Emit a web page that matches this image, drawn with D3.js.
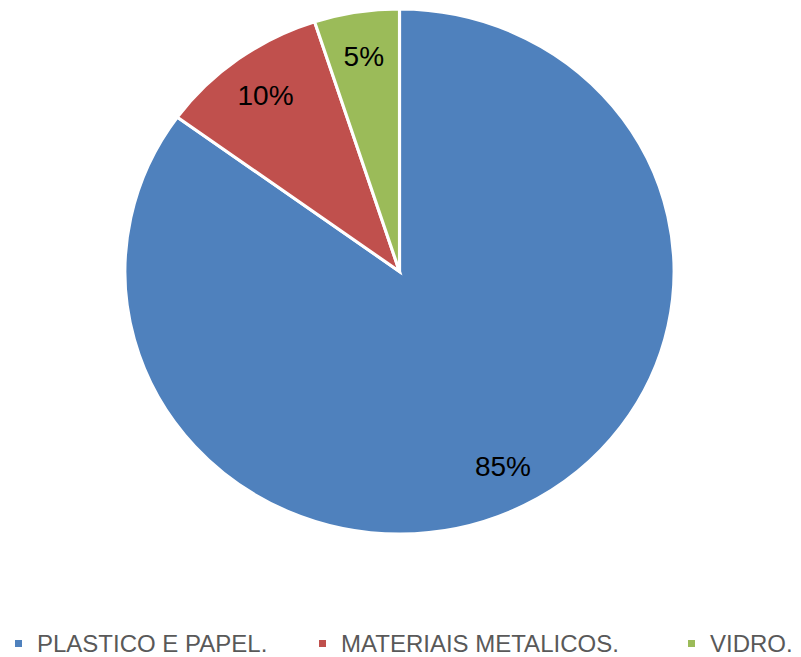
<!DOCTYPE html>
<html>
<head>
<meta charset="utf-8">
<script src="https://cdn.jsdelivr.net/npm/d3@7"></script>
<style>
  html, body { margin: 0; padding: 0; background: #fff; }
  svg { display: block; }
</style>
</head>
<body>
<svg id="chart" width="801" height="657"></svg>
<script>
// Composition of collected waste, in percent
const categories = ["PLASTICO E PAPEL.", "MATERIAIS METALICOS.", "VIDRO."];
const values = [85, 10, 5];
const colors = ["#4F81BD", "#C0504D", "#9BBB59"];

const svg = d3.select("#chart");
const W = 801, H = 657;
const cx = 399.5, cy = 271.5;
const R = 262.5;
const xStretch = 1.046;

// Slices run clockwise from 12 o'clock in data order
const pie = d3.pie().sort(null).value(d => d.value);
const data = categories.map((c, i) => ({ name: c, value: values[i], color: colors[i] }));
const arcs = pie(data);

const arc = d3.arc().innerRadius(0).outerRadius(R);
const labelArc = d3.arc().innerRadius(R * 0.83).outerRadius(R * 0.83);

const pieG = svg.append("g")
  .attr("transform", `translate(${cx},${cy}) scale(${xStretch},1)`);

pieG.selectAll("path")
  .data(arcs)
  .join("path")
  .attr("d", arc)
  .attr("fill", d => d.data.color)
  .attr("stroke", "#fff")
  .attr("stroke-width", 3)
  .attr("stroke-linejoin", "miter");

// Percentage labels placed along each slice's bisector
const total = d3.sum(values);
svg.append("g")
  .selectAll("text")
  .data(arcs)
  .join("text")
  .attr("x", d => cx + labelArc.centroid(d)[0] * xStretch)
  .attr("y", d => cy + labelArc.centroid(d)[1])
  .attr("dy", "0.36em")
  .attr("text-anchor", "middle")
  .attr("font-family", "'Liberation Sans', Arial, sans-serif")
  .attr("font-size", 28)
  .attr("fill", "#000")
  .text(d => Math.round(d.data.value / total * 100) + "%");

// Legend along the bottom
const legend = svg.append("g").attr("transform", "translate(0,652)");
const legendX = [15, 319, 688];
const items = legend.selectAll("g")
  .data(data)
  .join("g")
  .attr("transform", (d, i) => `translate(${legendX[i]},0)`);

items.append("rect")
  .attr("x", 0)
  .attr("y", -12)
  .attr("width", 7)
  .attr("height", 7)
  .attr("fill", d => d.color);

items.append("text")
  .attr("x", 22)
  .attr("y", 0)
  .attr("font-family", "'Liberation Sans', Arial, sans-serif")
  .attr("font-size", 24)
  .attr("fill", "#595959")
  .text(d => d.name);
</script>
</body>
</html>
